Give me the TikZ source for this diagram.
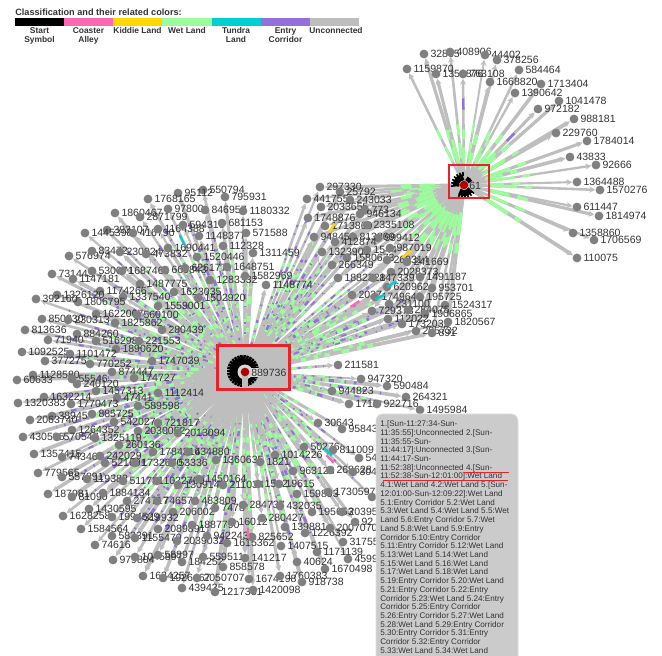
\documentclass[tikz,border=0pt]{standalone}
\usepackage{fontspec}
\setmainfont{Liberation Sans}
\usetikzlibrary{calc,arrows.meta}
\pgfdeclarelayer{bg}
\pgfsetlayers{bg,main}
\definecolor{cgray}{HTML}{BEBEBE}
\definecolor{cgreen}{HTML}{9CFD9C}
\definecolor{cpurple}{HTML}{9370DB}
\definecolor{cpink}{HTML}{FF69B4}
\definecolor{cgold}{HTML}{FFD700}
\definecolor{cteal}{HTML}{00CED1}
\definecolor{ctext}{HTML}{333333}
\definecolor{cdot}{HTML}{808080}
\definecolor{cred}{HTML}{E8222A}
\tikzset{
  dotn/.style={circle,fill=cdot,minimum size=6.6pt,inner sep=0pt},
  lbl/.style={font=\fontsize{7.9}{8}\selectfont,text=ctext,inner sep=0pt,label distance=1.2pt},
  edgeline/.style={draw=cgray,-{Stealth[length=4.5pt,width=4.5pt]}},
  hubbox/.style={draw=cred,line width=1.6pt},
  hubdot/.style={circle,fill=red!70!black,minimum size=6.5pt,inner sep=0pt},
  legendtxt/.style={font=\bfseries\fontsize{6.3}{6.9}\selectfont,text=ctext,align=center,inner sep=0pt,anchor=north},
}
\newcommand\edgeA[1]{%
  \pgfmathsetmacro\wd{1.5+1.6*rnd}%
  \pgfmathsetmacro\wo{0.75*\wd}%
  \pgfmathsetmacro\pa{rnd*9}\pgfmathsetmacro\pb{rnd*14}\pgfmathsetmacro\ra{rnd}%
  \draw[edgeline,line width=\wd pt] (hubA) -- (#1);
  \draw[cgreen,line width=\wd pt,dash pattern=on 6pt off 6pt on 3pt off 5pt on 4pt off 9pt,dash phase=\pa pt]
    ($(hubA)!0.3!(#1)$) -- ($(hubA)!0.72!(#1)$);
  \ifdim\ra pt>0.25pt
  \draw[cpurple,line width=\wo pt,dash pattern=on 1pt off 5pt on 4pt off 8pt on 1pt off 6pt on 2pt off 11pt,dash phase=\pb pt]
    ($(hubA)!0.3!(#1)$) -- ($(hubA)!0.85!(#1)$);
  \fi
}
\newcommand\edgeB[1]{%
  \pgfmathsetmacro\wd{1.4+1.6*rnd}%
  \pgfmathsetmacro\pa{rnd*12}%
  \draw[edgeline,line width=\wd pt] (hubB) -- (#1);
  \draw[cgreen,line width=\wd pt,dash pattern=on 20pt off 6pt on 8pt off 20pt,dash phase=\pa pt]
    ($(hubB)!0.2!(#1)$) -- ($(hubB)!0.5!(#1)$);
}
\begin{document}
\begin{tikzpicture}[x=0.75pt,y=-0.75pt]
\useasboundingbox (0,0) rectangle (662,656);
\pgfmathsetseed{11}
% legend
\node[font=\bfseries\fontsize{6.87}{7}\selectfont,text=ctext,anchor=west,inner sep=0pt] (legendtitle) at (15,12) {Classification and their related colors:};
\foreach \xa/\xb/\c in {15/64/black,64/113/cpink,113/162/cgold,162/212/cgreen,212/261/cteal,261/310/cpurple,310/359/cgray}
  \fill[\c] (\xa,18) rectangle (\xb,26);
\node[legendtxt] (lg1) at (39.5,27) {Start\\Symbol};
\node[legendtxt] (lg2) at (88.5,27) {Coaster\\Alley};
\node[legendtxt] (lg3) at (137.5,27) {Kiddie Land};
\node[legendtxt] (lg4) at (187,27) {Wet Land};
\node[legendtxt] (lg5) at (236,27) {Tundra\\Land};
\node[legendtxt] (lg6) at (285.5,27) {Entry\\Corridor};
\node[legendtxt] (lg7) at (336,27) {Unconnected};
% hubs
\fill[cgray] (218,346) rectangle (289,389);
\foreach \ang in {0,12,...,348}
  \draw[black,line width=1.9pt] (243,371) ++(\ang:9) -- ++(\ang:7);
\fill[black] (243,371) circle[radius=13.5];
\fill[cgray!60!white] (245,372) circle[radius=7.5];
\fill[cgray] (242,376) rectangle (248,389);
\fill[cgray!60!white] (250,368) rectangle (261,377);
\node[hubdot] (hubA) at (245,372) {};
\node[lbl,anchor=west] (labA) at (251,372.5) {889736};
\draw[hubbox] (217.5,345.5) rectangle (289.5,389.5);
\draw[black,line width=4.6pt] (464,185) ++(35:8) arc[start angle=35,end angle=125,radius=8];
\draw[black,line width=4.6pt] (464,185) ++(170:8) arc[start angle=170,end angle=265,radius=8];
\draw[black,line width=3.2pt] (464,185) ++(290:7) arc[start angle=290,end angle=335,radius=7];
\foreach \ang in {40,55,...,125,175,190,...,265}
  \draw[black,line width=1.2pt] (464,185) ++(\ang:9) -- ++(\ang:4);
\node[hubdot] (hubB) at (464,185) {};
\node[lbl,anchor=west] (labB) at (469,186) {61};
\draw[hubbox] (449,165) rectangle (489,198);
% nodes fed by hub B only
\foreach \x/\y/\lab [count=\i] in {
424/54/32865,450/52/408906,485/55/44402,497/60/378256,407/69/1159870,436/74/1350876,463/74/763108,519/70/584464,490/82/1668820,541/84/1713404,515/93/1390642,559/101/1041478,538/109/972182,574/119/988181,556/133/229760,587/141/1784014,570/157/43833,596/165/92666,577/182/1364488,600/190/1570276,577/207/611447,599/216/1814974,573/233/1358860,594/240/1706569,577/258/110075}{
  \node[dotn,label={[lbl]0:\lab}] (B\i) at (\x,\y) {};
  \begin{pgfonlayer}{bg}\edgeB{B\i}\end{pgfonlayer}
}
% nodes fed by both hubs
\foreach \x/\y/\lab [count=\i] in {
320/187/297330,340/192/25792,307/199/441755,350/200/243033,321/207/2033655,365/210/773,360/214/946134,308/218/1748876,325/226/1713869,367/225/2335108,314/237/948459,353/237/813869,378/238/999412,335/242/412874,322/252/1323905,367/250/1544,390/248/987019,347/258/1580673,387/260/260314,407/262/241669,332/265/266349,391/272/2028373,420/277/1491187,338/278/1882328,373/278/147339,387/287/620962,432/288/953701,352/295/2037,375/297/1749640,420/297/195725,389/304/231100,445/305/1524317,372/311/729373,408/310/284075,425/314/1906865,388/319/112022,402/324/1732032,448/322/1820567,416/331/205732,432/333/891}{
  \node[dotn,label={[lbl]0:\lab}] (C\i) at (\x,\y) {};
  \begin{pgfonlayer}{bg}\edgeA{C\i}\edgeB{C\i}\end{pgfonlayer}
}
% nodes fed by hub A only
\foreach \x/\y/\lab [count=\i] in {
203/190/550794,178/193/95112,148/199/1768165,225/197/795931,115/213/1860467,168/209/97800,205/210/846957,243/211/1180332,140/217/2871799,107/230/393107,85/233/1445398,133/233/416790,158/229/1164388,183/225/594316,199/236/1148377,222/223/681153,246/233/571588,69/256/576974,92/251/83472,120/252/230924,146/254/473832,168/248/1690441,197/257/1520446,223/246/112328,253/253/1311459,52/274/731443,73/279/1147181,92/271/530071,122/271/1687464,165/270/660843,185/268/626177,227/267/1648751,210/280/1283332,245/276/1582969,266/285/1148774,140/284/1487775,174/292/1623035,100/291/1174266,57/295/1326120,123/297/1337540,78/302/1806795,36/299/392160,198/298/1502920,158/306/1559001,96/314/1622007,137/315/560100,42/319/850330,68/320/230313,115/323/1825862,162/330/280439,25/330/813636,77/334/884260,48/340/71940,96/341/516298,139/341/221553,116/349/1890620,22/352/1092525,70/354/1101472,152/361/1747039,45/361/377275,90/364/770252,112/372/874447,134/378/174727,33/375/1128580,17/380/60633,72/379/55546,77/384/240120,96/391/1457313,158/393/1112414,44/397/1632214,18/403/1320383,117/398/47441,71/404/1770473,138/406/589598,92/414/885725,52/416/38945,30/420/2063740,114/422/542027,158/423/721817,72/430/1264352,138/431/2030062,178/433/2013094,23/437/430595,57/437/570547,95/438/1325119,119/445/260136,153/452/1784314,188/452/634880,34/454/1357415,62/457/743465,100/456/242029,105/463/521691,135/463/1732670,172/463/53336,216/460/1360635,38/473/779565,62/477/557891,87/479/119382,123/481/511781,157/481/1022760,178/485/1309149,199/479/1450164,48/494/187981,72/497/81090,103/493/1884134,127/501/274717,157/501/746574,195/501/483809,223/485/211034,173/512/206002,89/509/1430595,63/516/1628258,112/517/1994529,137/518/319932,215/508/7478,81/529/1584564,112/536/583391,135/538/1155470,158/529/2089891,192/525/1887790,177/541/2039032,207/536/942243,95/545/74616,113/560/979804,135/557/1045897,158/555/58897,182/562/184252,203/557/559511,223/567/858578,143/576/1634257,163/578/1926467,197/578/2050707,182/588/439435,215/592/1217381,275/455/1014226,260/462/1821,293/471/963128,330/470/268628,318/423/30643,342/429/95843,304/447/50276,333/450/811009,359/458/54,353/472/304,258/484/1512,279/484/19615,297/494/159893,328/492/1730597,372/497/107,243/505/284737,280/506/432035,312/512/195653,342/512/20395,232/522/16012,262/518/280427,285/527/139881,305/533/1226392,330/528/2007070,355/522/92,343/542/31755,227/543/1615362,252/537/825652,281/546/1407515,317/552/1171139,348/559/4599,245/558/141217,297/562/40624,325/569/1670498,249/579/1674198,280/576/1760383,302/582/918738,253/590/1420098,338/365/211581,361/379/947320,387/386/590484,332/391/944823,406/397/264321,349/404/1711,377/404/922716,420/410/1495984}{
  \node[dotn,label={[lbl]0:\lab}] (A\i) at (\x,\y) {};
  \begin{pgfonlayer}{bg}\edgeA{A\i}\end{pgfonlayer}
}
% small coloured marks on the connectors
\foreach \x/\y/\c in {355/304/cpink,392/284/cteal,380/297/cteal,182/240/cteal,332/228/cgold,407/254/cgold,330/459/cpink,328/452/cteal,248/533/cpink}
  \draw[\c,line width=1.8pt] ($(\x,\y)!4pt!(hubA)$) -- ($(\x,\y)!-4pt!(hubA)$);
\draw[cpurple,line width=1.8pt] ($(hubB)!0.68!(B7)$) -- ($(hubB)!0.78!(B7)$);
\draw[cpurple,line width=1.8pt] ($(hubB)!0.58!(B13)$) -- ($(hubB)!0.68!(B13)$);
% tooltip
\draw[draw=cgray!50!white,fill=cgray!80!white,line width=0.6pt,rounded corners=5pt] (376,414) rectangle (518,662);
\node[anchor=north west,inner sep=0pt,align=left,text=ctext,font=\fontsize{6.1}{6.54}\selectfont] (tip) at (380,420.5) {%
1.[Sun-11:27:34-Sun-\\
11:35:55]:Unconnected 2.[Sun-\\
11:35:55-Sun-\\
11:44:17]:Unconnected 3.[Sun-\\
11:44:17-Sun-\\
11:52:38]:Unconnected 4.[Sun-\\
11:52:38-Sun-12:01:00]:Wet Land\\
4.1:Wet Land 4.2:Wet Land 5.[Sun-\\
12:01:00-Sun-12:09:22]:Wet Land\\
5.1:Entry Corridor 5.2:Wet Land\\
5.3:Wet Land 5.4:Wet Land 5.5:Wet\\
Land 5.6:Entry Corridor 5.7:Wet\\
Land 5.8:Wet Land 5.9:Entry\\
Corridor 5.10:Entry Corridor\\
5.11:Entry Corridor 5.12:Wet Land\\
5.13:Wet Land 5.14:Wet Land\\
5.15:Wet Land 5.16:Wet Land\\
5.17:Wet Land 5.18:Wet Land\\
5.19:Entry Corridor 5.20:Wet Land\\
5.21:Entry Corridor 5.22:Entry\\
Corridor 5.23:Wet Land 5.24:Entry\\
Corridor 5.25:Entry Corridor\\
5.26:Entry Corridor 5.27:Wet Land\\
5.28:Wet Land 5.29:Entry Corridor\\
5.30:Entry Corridor 5.31:Entry\\
Corridor 5.32:Entry Corridor\\
5.33:Wet Land 5.34:Wet Land};
\draw[cred,line width=1.1pt] (464,472.3) -- (509,472.3);
\draw[cred,line width=1.1pt] (383,480.7) -- (508,480.7);
\end{tikzpicture}
\end{document}
